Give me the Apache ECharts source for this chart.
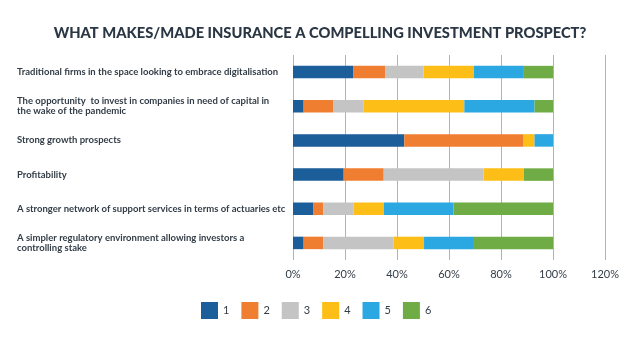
<!DOCTYPE html>
<html><head><meta charset="utf-8">
<script src="https://cdn.jsdelivr.net/npm/echarts@6/dist/echarts.min.js"></script>
<style>html,body{margin:0;padding:0;background:#fff}#c{width:640px;height:337px}</style>
</head><body><div id="c"></div>
<script>
const categories = [
  "Traditional firms in the space looking to embrace digitalisation",
  "The opportunity  to invest in companies in need of capital in\nthe wake of the pandemic",
  "Strong growth prospects",
  "Profitability",
  "A stronger network of support services in terms of actuaries etc",
  "A simpler regulatory environment allowing investors a\ncontrolling stake"
];
const seriesNames = ["1","2","3","4","5","6"];
const s1 = [23.1, 4.1, 42.8, 19.5, 7.9, 4.1];
const s2 = [12.3, 11.3, 45.9, 15.4, 3.8, 7.6];
const s3 = [14.8, 11.8, 0, 38.4, 11.5, 26.9];
const s4 = [19.4, 38.7, 4.2, 15.5, 11.8, 11.8];
const s5 = [19.2, 27.0, 7.1, 0, 26.7, 19.2];
const s6 = [11.2, 7.1, 0, 11.2, 38.3, 30.4];
const colors = ["#1c5e9a","#f07e30","#c4c4c4","#fdbf17","#2ba7e1","#6fac46"];
const xTicks = [0,20,40,60,80,100,120];

const allData = [s1,s2,s3,s4,s5,s6];
const chart = echarts.init(document.getElementById('c'));
chart.setOption({
  animation: false,
  title: {
    text: "WHAT MAKES/MADE INSURANCE A COMPELLING INVESTMENT PROSPECT?",
    left: 'center', top: 21,
    textStyle: {fontFamily: 'Lato', fontWeight: 900, fontSize: 14.7, color: '#2b3744'}
  },
  legend: {
    left: 201, top: 302, padding: 0, itemWidth: 17, itemHeight: 17, itemGap: 12,
    icon: 'rect',
    textStyle: {fontFamily: 'Lato', fontSize: 11, color: '#333d47'},
    data: seriesNames
  },
  grid: {left: 293, right: 35, top: 55, bottom: 77, containLabel: false},
  xAxis: {
    type: 'value', min: xTicks[0], max: xTicks[xTicks.length - 1], interval: 20,
    axisLine: {show: false}, axisTick: {show: false},
    splitLine: {show: true, lineStyle: {color: '#b0b3b8', width: 1}},
    axisLabel: {formatter: v => v + '%', fontFamily: 'Lato', fontSize: 11, color: '#333d47', margin: 9}
  },
  yAxis: {
    type: 'category', inverse: true, data: categories,
    axisLine: {show: false}, axisTick: {show: false},
    axisLabel: {align: 'left', margin: 276, fontFamily: 'Lato', fontWeight: 'bold', fontSize: 9.5,
      lineHeight: 10, color: '#333d47'}
  },
  series: allData.map((d, i) => ({
    name: seriesNames[i], type: 'bar', stack: 'total', data: d,
    barWidth: 12.5,
    itemStyle: {color: colors[i]}
  }))
});
</script></body></html>
